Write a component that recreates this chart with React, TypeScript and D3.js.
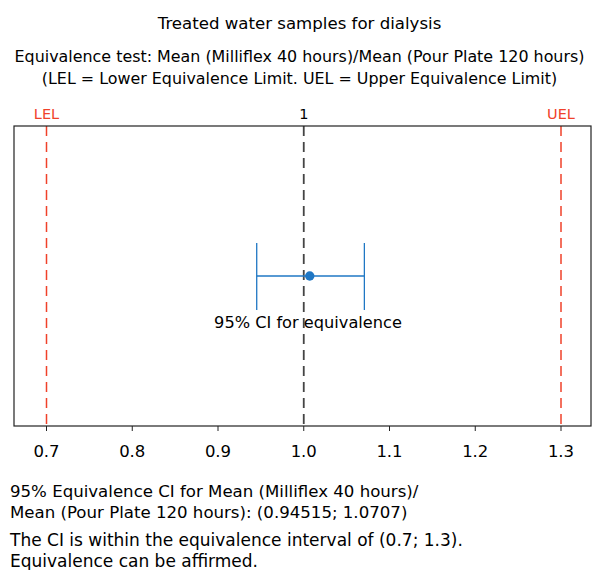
import React from "react";
import * as d3 from "d3";

const title = "Treated water samples for dialysis";
const subtitleLines = [
  "Equivalence test: Mean (Milliflex 40 hours)/Mean (Pour Plate 120 hours)",
  "(LEL = Lower Equivalence Limit. UEL = Upper Equivalence Limit)",
];
const xTicks = [0.7, 0.8, 0.9, 1.0, 1.1, 1.2, 1.3];
const limits = [
  { label: "LEL", value: 0.7 },
  { label: "UEL", value: 1.3 },
];
const reference = { label: "1", value: 1.0 };
const ciLower = 0.94515;
const ciUpper = 1.0707;
const estimate = 1.007;
const ciLabel = "95% CI for equivalence";
const footerLines = [
  "95% Equivalence CI for Mean (Milliflex 40 hours)/",
  "Mean (Pour Plate 120 hours): (0.94515; 1.0707)",
];
const conclusionLines = [
  "The CI is within the equivalence interval of (0.7; 1.3).",
  "Equivalence can be affirmed.",
];

const W = 592;
const H = 570;
const FONT = "'DejaVu Sans', sans-serif";

export default function App() {
  const plot = { left: 14, right: 591, top: 126, bottom: 426 };
  const x = d3.scaleLinear().domain([0.7, 1.3]).range([46.5, 561]);
  const yMid = (plot.top + plot.bottom) / 2;
  const red = "#f0412a";
  const blue = "#1f77c4";

  return (
    <svg
      width={W}
      height={H}
      style={{ position: "absolute", left: 0, top: 0 }}
      fontFamily={FONT}
    >
      <rect width={W} height={H} fill="white" />
      <text x={299.5} y={29} textAnchor="middle" fontSize={16.6} fill="#000">
        {title}
      </text>
      {subtitleLines.map((s, i) => (
        <text key={i} x={299.5} y={62 + i * 22} textAnchor="middle" fontSize={15.9} fill="#000">
          {s}
        </text>
      ))}
      {limits.map((l) => (
        <g key={l.label}>
          <line
            x1={x(l.value)}
            x2={x(l.value)}
            y1={plot.top}
            y2={plot.bottom}
            stroke={red}
            strokeWidth={1.5}
            strokeDasharray="10,6"
          />
          <text x={x(l.value)} y={119} textAnchor="middle" fontSize={14.5} fill={red}>
            {l.label}
          </text>
        </g>
      ))}
      <line
        x1={x(reference.value)}
        x2={x(reference.value)}
        y1={plot.top}
        y2={plot.bottom}
        stroke="#444"
        strokeWidth={1.8}
        strokeDasharray="10,6"
      />
      <text x={x(reference.value)} y={119} textAnchor="middle" fontSize={14.5} fill="#000">
        {reference.label}
      </text>
      <rect
        x={plot.left}
        y={plot.top}
        width={plot.right - plot.left}
        height={plot.bottom - plot.top}
        fill="none"
        stroke="#222"
        strokeWidth={1.2}
      />
      <line x1={x(ciLower)} x2={x(ciUpper)} y1={yMid} y2={yMid} stroke={blue} strokeWidth={1.3} />
      <line x1={x(ciLower)} x2={x(ciLower)} y1={yMid - 33} y2={yMid + 34} stroke={blue} strokeWidth={1.3} />
      <line x1={x(ciUpper)} x2={x(ciUpper)} y1={yMid - 33} y2={yMid + 34} stroke={blue} strokeWidth={1.3} />
      <circle cx={x(estimate)} cy={yMid} r={4.7} fill={blue} />
      <text x={308} y={328} textAnchor="middle" fontSize={16.2} fill="#000">
        {ciLabel}
      </text>
      {xTicks.map((t) => (
        <g key={t}>
          <line x1={x(t)} x2={x(t)} y1={plot.bottom} y2={plot.bottom + 5} stroke="#222" strokeWidth={1} />
          <text x={x(t)} y={457} textAnchor="middle" fontSize={16.5} fill="#000">
            {d3.format(".1f")(t)}
          </text>
        </g>
      ))}
      {footerLines.map((s, i) => (
        <text key={"f" + i} x={10} y={497 + i * 21} fontSize={16.6} fill="#000">
          {s}
        </text>
      ))}
      {conclusionLines.map((s, i) => (
        <text key={"c" + i} x={10} y={546 + i * 21} fontSize={17} fill="#000">
          {s}
        </text>
      ))}
    </svg>
  );
}
